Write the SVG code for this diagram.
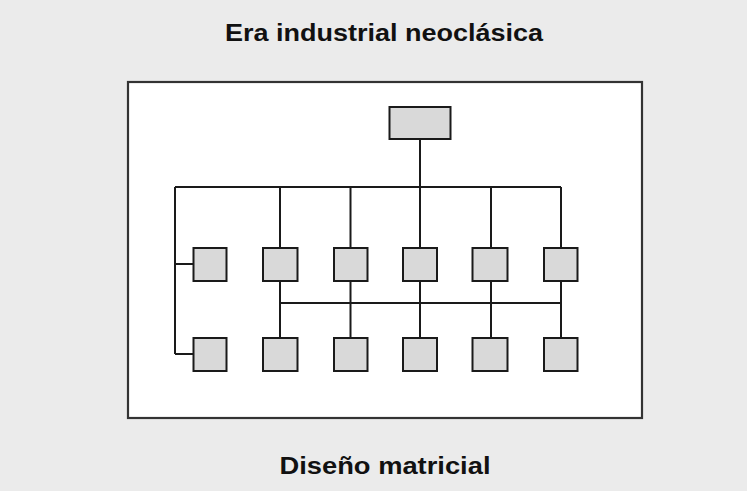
<svg xmlns="http://www.w3.org/2000/svg" width="747" height="491" viewBox="0 0 747 491">
<style>
.t{font-family:"Liberation Sans",Arial,sans-serif;font-weight:bold;font-size:23px;fill:#111}
.b{fill:#d9d9d9;stroke:#1a1a1a;stroke-width:2}
.c{stroke:#1a1a1a;stroke-width:2;fill:none}
</style>
<rect width="747" height="491" fill="#ebebeb"/>
<text class="t" x="384" y="41" text-anchor="middle" textLength="318" lengthAdjust="spacingAndGlyphs">Era industrial neoclásica</text>
<text class="t" x="385" y="474" text-anchor="middle" textLength="211" lengthAdjust="spacingAndGlyphs">Diseño matricial</text>
<rect x="128" y="82" width="514" height="336" fill="#fff" stroke="#333" stroke-width="2.2"/>
<g id="connectors" class="c">
<path d="M420 139V248M175 187H561M175 187V354M175 264H193M175 354H193"/>
<path d="M280 187V248M350.5 187V248M491 187V248M561 187V248"/>
<path d="M280 281V338M350.5 281V338M420 281V338M491 281V338M561 281V338M280 303H561"/>
</g>
<g id="top"><rect class="b" x="389.5" y="107" width="61" height="32"/></g>
<g id="r1c1"><rect class="b" x="193.5" y="248" width="33" height="33"/></g>
<g id="r1c2"><rect class="b" x="263" y="248" width="34.5" height="33"/></g>
<g id="r1c3"><rect class="b" x="334" y="248" width="33.5" height="33"/></g>
<g id="r1c4"><rect class="b" x="403" y="248" width="34" height="33"/></g>
<g id="r1c5"><rect class="b" x="472.5" y="248" width="35" height="33"/></g>
<g id="r1c6"><rect class="b" x="544" y="248" width="33.5" height="33"/></g>
<g id="r2c1"><rect class="b" x="193.5" y="338" width="33" height="33"/></g>
<g id="r2c2"><rect class="b" x="263" y="338" width="34.5" height="33"/></g>
<g id="r2c3"><rect class="b" x="334" y="338" width="33.5" height="33"/></g>
<g id="r2c4"><rect class="b" x="403" y="338" width="34" height="33"/></g>
<g id="r2c5"><rect class="b" x="472.5" y="338" width="35" height="33"/></g>
<g id="r2c6"><rect class="b" x="544" y="338" width="33.5" height="33"/></g>
</svg>
